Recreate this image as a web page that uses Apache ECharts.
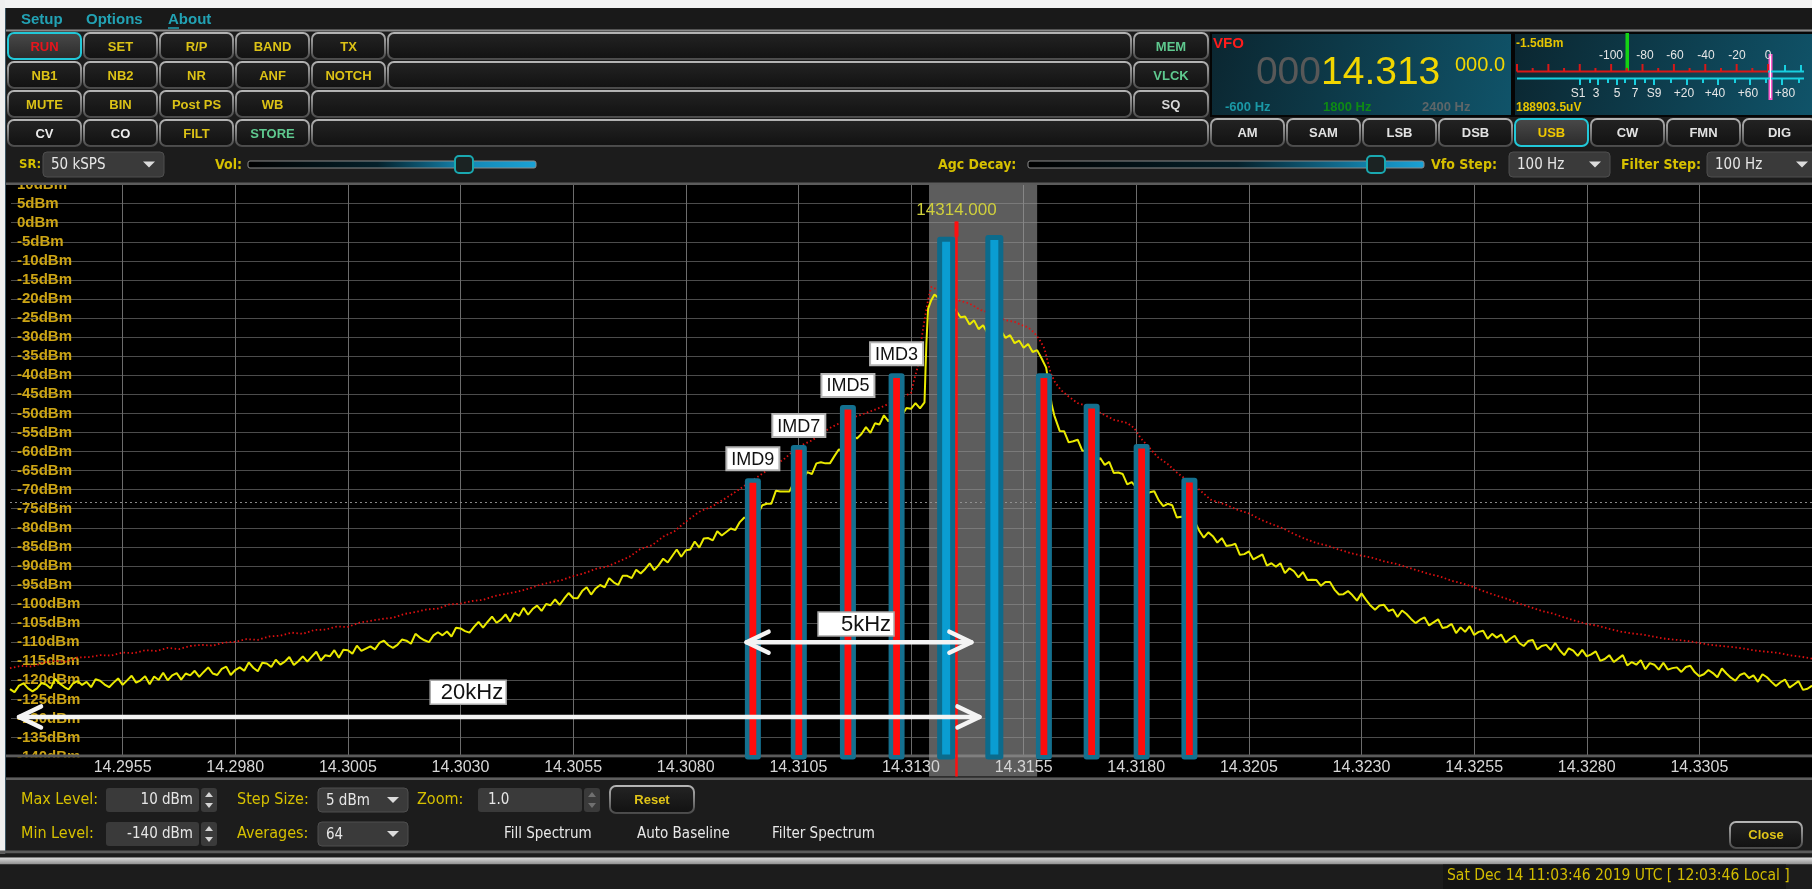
<!DOCTYPE html>
<html>
<head>
<meta charset="utf-8">
<title>Spectrum</title>
<script src="https://cdn.jsdelivr.net/npm/echarts@6/dist/echarts.min.js"></script>
<style>
  html, body { margin: 0; padding: 0; background: #1c1c1c; overflow: hidden; }
  #chart { width: 1812px; height: 889px; }
</style>
</head>
<body>
<div id="chart"></div>
<script>
// ---------- axes: frequency in kHz, level in dBm ----------
const freqMin = 14293, freqMax = 14333, freqStep = 2.5;
const levelMin = -140, levelMax = 10, levelStep = 5;

// ---------- two-tone carriers and intermodulation products ----------
const barFreq  = [14309.49, 14310.51, 14311.60, 14312.68, 14313.78, 14314.85, 14315.95, 14317.01, 14318.12, 14319.18];
const barLevel = [-67.0, -58.3, -47.8, -39.5, -3.7, -3.2, -39.5, -47.5, -58.0, -66.9];
const barKind  = ['imd', 'imd', 'imd', 'imd', 'tone', 'tone', 'imd', 'imd', 'imd', 'imd'];
const barLabel = ['IMD9', 'IMD7', 'IMD5', 'IMD3', '', '', '', '', '', ''];

// ---------- receive filter, VFO marker, AGC threshold ----------
const passband = [14313.4, 14315.8];
const vfoFreq = 14314;
const vfoMarkTop = 0.3;
const agcThreshold = -73.2;

// ---------- span annotations ----------
const spanFrom  = [14309.35, 14293.2];
const spanTo    = [14314.34, 14314.52];
const spanLevel = [-110, -129.6];
const spanText  = ['5kHz', '20kHz'];
const spanTextFreq  = [14311.78, 14303.17];
const spanTextLevel = [-105.2, -123.1];

// ---------- averaged spectrum (yellow) ----------
const liveTrace = [
[14293.0,-122.3],[14293.1,-123.1],[14293.2,-121.4],[14293.3,-120.8],[14293.4,-122.1],[14293.5,-122.9],[14293.6,-122.1],[14293.7,-120.7],[14293.8,-121.1],[14293.9,-122.1],
[14294.0,-119.6],[14294.1,-120.8],[14294.2,-121.7],[14294.3,-122.4],[14294.4,-120.8],[14294.5,-120.2],[14294.6,-121.2],[14294.7,-120.4],[14294.8,-121.8],[14294.9,-119.7],
[14295.0,-120.1],[14295.1,-121.1],[14295.2,-121.8],[14295.3,-120.6],[14295.4,-119.5],[14295.5,-121.2],[14295.6,-120.0],[14295.7,-118.8],[14295.8,-120.6],[14295.9,-120.0],
[14296.0,-118.9],[14296.1,-121.0],[14296.2,-119.0],[14296.3,-119.9],[14296.4,-118.0],[14296.5,-120.0],[14296.6,-118.7],[14296.7,-118.1],[14296.8,-119.8],[14296.9,-118.2],
[14297.0,-118.7],[14297.1,-117.5],[14297.2,-119.1],[14297.3,-117.8],[14297.4,-116.6],[14297.5,-118.2],[14297.6,-118.6],[14297.7,-117.0],[14297.8,-116.4],[14297.9,-118.6],
[14298.0,-117.3],[14298.1,-116.6],[14298.2,-117.5],[14298.3,-115.3],[14298.4,-116.7],[14298.5,-117.6],[14298.6,-115.4],[14298.7,-115.6],[14298.8,-116.5],[14298.9,-114.6],
[14299.0,-115.9],[14299.1,-115.1],[14299.2,-113.9],[14299.3,-116.0],[14299.4,-115.0],[14299.5,-113.7],[14299.6,-115.1],[14299.7,-113.8],[14299.8,-112.5],[14299.9,-114.8],
[14300.0,-113.4],[14300.1,-113.7],[14300.2,-112.1],[14300.3,-114.1],[14300.4,-112.0],[14300.5,-112.1],[14300.6,-113.0],[14300.7,-110.9],[14300.8,-112.3],[14300.9,-111.7],
[14301.0,-111.1],[14301.1,-111.9],[14301.2,-110.2],[14301.3,-109.6],[14301.4,-110.8],[14301.5,-111.5],[14301.6,-110.7],[14301.7,-109.3],[14301.8,-109.6],[14301.9,-110.4],
[14302.0,-107.8],[14302.1,-108.8],[14302.2,-109.5],[14302.3,-110.0],[14302.4,-108.2],[14302.5,-107.4],[14302.6,-108.2],[14302.7,-107.2],[14302.8,-108.5],[14302.9,-106.2],
[14303.0,-106.4],[14303.1,-107.1],[14303.2,-107.5],[14303.3,-106.0],[14303.4,-104.7],[14303.5,-106.2],[14303.6,-104.7],[14303.7,-103.3],[14303.8,-104.9],[14303.9,-104.1],
[14304.0,-102.7],[14304.1,-104.6],[14304.2,-102.4],[14304.3,-103.1],[14304.4,-101.0],[14304.5,-102.8],[14304.6,-101.3],[14304.7,-100.4],[14304.8,-101.8],[14304.9,-100.0],
[14305.0,-100.3],[14305.1,-98.8],[14305.2,-100.2],[14305.3,-98.6],[14305.4,-97.1],[14305.5,-98.4],[14305.6,-98.5],[14305.7,-96.6],[14305.8,-95.6],[14305.9,-97.5],
[14306.0,-95.9],[14306.1,-95.0],[14306.2,-95.6],[14306.3,-93.2],[14306.4,-94.3],[14306.5,-95.0],[14306.6,-92.6],[14306.7,-92.6],[14306.8,-93.2],[14306.9,-91.0],
[14307.0,-92.0],[14307.1,-90.8],[14307.2,-89.3],[14307.3,-91.1],[14307.4,-89.8],[14307.5,-88.1],[14307.6,-89.1],[14307.7,-87.4],[14307.8,-85.7],[14307.9,-87.6],
[14308.0,-85.9],[14308.1,-85.7],[14308.2,-83.6],[14308.3,-85.2],[14308.4,-82.8],[14308.5,-82.7],[14308.6,-83.3],[14308.7,-80.9],[14308.8,-82.0],[14308.9,-81.1],
[14309.0,-80.2],[14309.1,-80.6],[14309.2,-78.5],[14309.3,-77.3],[14309.4,-78.0],[14309.5,-77.9],[14309.6,-76.3],[14309.7,-74.1],[14309.8,-73.7],[14309.9,-73.7],
[14310.0,-70.3],[14310.1,-70.5],[14310.2,-70.5],[14310.3,-70.5],[14310.4,-68.1],[14310.5,-66.8],[14310.6,-67.1],[14310.7,-65.4],[14310.8,-65.9],[14310.9,-63.1],
[14311.0,-62.8],[14311.1,-63.1],[14311.2,-63.1],[14311.3,-61.2],[14311.4,-59.4],[14311.5,-60.1],[14311.6,-57.8],[14311.7,-55.7],[14311.8,-56.6],[14311.9,-55.4],
[14312.0,-53.6],[14312.1,-55.1],[14312.2,-52.6],[14312.3,-52.9],[14312.4,-50.5],[14312.5,-52.1],[14312.6,-50.4],[14312.7,-49.3],[14312.8,-50.5],[14312.9,-48.6],
[14313.0,-48.8],[14313.1,-47.3],[14313.2,-48.7],[14313.3,-47.1],[14313.34,-32.0],[14313.38,-22.5],[14313.45,-20.3],[14313.52,-18.8],[14313.6,-19.6],[14313.7,-18.6],
[14313.8,-20.5],[14313.9,-22.0],[14314.0,-23.0],[14314.1,-24.8],[14314.2,-24.6],[14314.3,-26.7],[14314.4,-25.6],[14314.5,-27.9],[14314.6,-26.9],[14314.7,-29.0],
[14314.8,-27.6],[14314.9,-29.4],[14315.0,-28.4],[14315.1,-30.2],[14315.2,-29.5],[14315.3,-31.6],[14315.4,-30.9],[14315.5,-32.8],[14315.6,-31.8],[14315.7,-33.9],
[14315.8,-33.4],[14315.9,-35.6],[14316.0,-38.0],[14316.06,-42.5],[14316.12,-47.5],[14316.18,-50.5],
[14316.3,-54.6],[14316.4,-54.7],[14316.5,-57.6],[14316.6,-57.3],[14316.7,-56.9],[14316.8,-59.7],[14316.9,-59.9],[14317.0,-59.7],[14317.1,-62.7],[14317.2,-61.7],
[14317.3,-63.5],[14317.4,-62.7],[14317.5,-65.6],[14317.6,-65.5],[14317.7,-65.9],[14317.8,-68.6],[14317.9,-68.0],[14318.0,-69.4],[14318.1,-68.9],[14318.2,-71.3],
[14318.3,-70.7],[14318.4,-70.4],[14318.5,-72.8],[14318.6,-74.3],[14318.7,-73.7],[14318.8,-74.1],[14318.9,-77.3],[14319.0,-77.1],[14319.1,-77.5],[14319.2,-79.5],
[14319.3,-78.4],[14319.4,-80.8],[14319.5,-82.6],[14319.6,-81.2],[14319.7,-82.2],[14319.8,-83.9],[14319.9,-82.7],[14320.0,-84.8],[14320.1,-84.6],[14320.2,-84.2],
[14320.3,-87.1],[14320.4,-86.9],[14320.5,-86.2],[14320.6,-88.3],[14320.7,-87.6],[14320.8,-87.0],[14320.9,-89.9],[14321.0,-89.3],[14321.1,-90.2],[14321.2,-89.3],
[14321.3,-91.9],[14321.4,-90.6],[14321.5,-91.4],[14321.6,-93.0],[14321.7,-91.6],[14321.8,-93.7],[14321.9,-93.6],[14322.0,-93.7],[14322.1,-95.2],[14322.2,-94.2],
[14322.3,-94.2],[14322.4,-96.2],[14322.5,-97.5],[14322.6,-97.4],[14322.7,-96.6],[14322.8,-97.7],[14322.9,-99.1],[14323.0,-97.2],[14323.1,-98.9],[14323.2,-100.4],
[14323.3,-101.5],[14323.4,-100.4],[14323.5,-100.2],[14323.6,-101.8],[14323.7,-101.4],[14323.8,-103.4],[14323.9,-101.7],[14324.0,-102.6],[14324.1,-103.9],[14324.2,-105.0],
[14324.3,-104.1],[14324.4,-103.5],[14324.5,-105.6],[14324.6,-104.8],[14324.7,-104.0],[14324.8,-106.3],[14324.9,-106.0],[14325.0,-105.2],[14325.1,-107.6],[14325.2,-106.1],
[14325.3,-107.3],[14325.4,-105.8],[14325.5,-108.1],[14325.6,-107.3],[14325.7,-107.0],[14325.8,-109.1],[14325.9,-107.8],[14326.0,-108.8],[14326.1,-108.0],[14326.2,-110.1],
[14326.3,-109.1],[14326.4,-108.3],[14326.5,-110.2],[14326.6,-111.0],[14326.7,-109.7],[14326.8,-109.4],[14326.9,-111.9],[14327.0,-111.0],[14327.1,-110.7],[14327.2,-112.0],
[14327.3,-110.2],[14327.4,-112.1],[14327.5,-113.4],[14327.6,-111.6],[14327.7,-112.2],[14327.8,-113.6],[14327.9,-112.0],[14328.0,-113.7],[14328.1,-113.2],[14328.2,-112.4],
[14328.3,-114.9],[14328.4,-114.4],[14328.5,-113.4],[14328.6,-115.2],[14328.7,-114.3],[14328.8,-113.4],[14328.9,-116.1],[14329.0,-115.2],[14329.1,-115.9],[14329.2,-114.7],
[14329.3,-117.1],[14329.4,-115.5],[14329.5,-115.9],[14329.6,-117.2],[14329.7,-115.4],[14329.8,-117.2],[14329.9,-116.8],[14330.0,-116.6],[14330.1,-117.8],[14330.2,-116.5],
[14330.3,-116.2],[14330.4,-117.9],[14330.5,-118.9],[14330.6,-118.4],[14330.7,-117.3],[14330.8,-118.1],[14330.9,-119.2],[14331.0,-116.9],[14331.1,-118.2],[14331.2,-119.3],
[14331.3,-120.1],[14331.4,-118.6],[14331.5,-118.1],[14331.6,-119.4],[14331.7,-118.7],[14331.8,-120.4],[14331.9,-118.4],[14332.0,-119.2],[14332.1,-120.4],[14332.2,-121.5],
[14332.3,-120.5],[14332.4,-119.8],[14332.5,-121.9],[14332.6,-121.1],[14332.7,-120.2],[14332.8,-122.5],[14332.9,-122.2],[14333.0,-121.4]
];

// ---------- peak hold (red, dotted) ----------
const peakTrace = [
[14293.0,-116.8],[14293.25,-116.2],[14293.5,-116.4],[14293.75,-115.3],[14294.0,-114.9],[14294.25,-115.1],[14294.5,-114.0],[14294.75,-113.9],[14295.0,-113.4],[14295.25,-113.5],
[14295.5,-112.7],[14295.75,-112.9],[14296.0,-112.1],[14296.25,-112.3],[14296.5,-111.5],[14296.75,-111.8],[14297.0,-111.0],[14297.25,-110.7],[14297.5,-110.9],[14297.75,-110.1],
[14298.0,-109.9],[14298.25,-109.2],[14298.5,-109.4],[14298.75,-108.5],[14299.0,-108.3],[14299.25,-107.5],[14299.5,-107.8],[14299.75,-106.8],[14300.0,-106.7],[14300.25,-105.9],
[14300.5,-106.0],[14300.75,-104.9],[14301.0,-104.4],[14301.25,-103.9],[14301.5,-103.6],[14301.75,-102.6],[14302.0,-102.1],[14302.25,-101.4],[14302.5,-101.2],[14302.75,-100.1],
[14303.0,-99.9],[14303.25,-99.2],[14303.5,-98.9],[14303.75,-97.9],[14304.0,-97.3],[14304.25,-96.8],[14304.5,-96.0],[14304.75,-95.0],[14305.0,-94.3],[14305.25,-93.7],
[14305.5,-92.7],[14305.75,-91.9],[14306.0,-90.8],[14306.25,-90.2],[14306.5,-88.9],[14306.75,-87.6],[14307.0,-85.5],[14307.25,-84.6],[14307.5,-82.3],[14307.75,-80.9],
[14308.0,-78.4],[14308.3,-75.8],[14308.6,-74.3],[14309.0,-71.4],[14309.4,-68.2],[14309.8,-65.0],[14310.2,-61.8],[14310.5,-58.7],[14310.8,-57.1],[14311.2,-53.8],
[14311.6,-51.5],[14312.0,-49.9],[14312.4,-48.1],[14312.7,-46.2],[14313.0,-44.7],[14313.07,-41.2],[14313.15,-37.8],[14313.22,-31.5],[14313.3,-25.5],[14313.38,-20.2],
[14313.45,-16.8],[14313.56,-17.4],[14313.7,-18.6],[14313.85,-18.9],[14314.04,-20.3],[14314.3,-21.2],[14314.55,-22.9],[14314.8,-23.8],[14315.08,-25.5],[14315.3,-26.0],
[14315.45,-26.8],[14315.6,-27.4],[14315.74,-28.9],[14315.85,-30.6],[14315.96,-32.9],[14316.1,-39.4],[14316.2,-41.9],[14316.33,-43.9],[14316.5,-45.6],[14316.7,-47.3],
[14317.0,-48.4],[14317.21,-49.9],[14317.51,-51.7],[14317.8,-52.5],[14317.95,-53.8],[14318.1,-56.5],[14318.3,-59.1],[14318.47,-61.4],[14318.7,-63.3],[14318.91,-65.6],
[14319.15,-67.7],[14319.36,-69.6],[14319.65,-72.6],[14320.0,-74.0],[14320.25,-75.3],[14320.5,-76.2],[14320.75,-77.8],[14321.0,-79.0],[14321.25,-80.1],[14321.5,-81.6],
[14321.75,-82.9],[14322.0,-84.0],[14322.25,-84.7],[14322.5,-85.7],[14322.75,-86.6],[14323.0,-87.3],[14323.25,-87.9],[14323.5,-88.8],[14323.75,-89.4],[14324.0,-90.3],
[14324.25,-91.2],[14324.5,-92.1],[14324.75,-92.8],[14325.0,-93.9],[14325.25,-94.6],[14325.5,-95.6],[14325.75,-96.8],[14326.0,-97.8],[14326.25,-98.7],[14326.5,-99.9],
[14326.75,-100.8],[14327.0,-101.8],[14327.25,-102.5],[14327.5,-103.5],[14327.75,-104.4],[14328.0,-105.2],[14328.25,-105.7],[14328.5,-106.5],[14328.75,-107.2],[14329.0,-107.7],
[14329.25,-108.0],[14329.5,-108.6],[14329.75,-109.1],[14330.0,-109.4],[14330.25,-109.7],[14330.5,-110.2],[14330.75,-110.7],[14331.0,-111.0],[14331.25,-111.3],[14331.5,-111.7],
[14331.75,-112.2],[14332.0,-112.5],[14332.25,-112.8],[14332.5,-113.4],[14332.75,-113.8],[14333.0,-114.3]
];

// ---------- control panel texts ----------
const menuItems = ['Setup', 'Options', 'About'];
const menuX = [21, 86, 168];
const buttonCols = [8, 84, 160, 236, 312];
const buttonRows = [33, 62, 91, 120];
const buttonText = [
  ['RUN', 'SET', 'R/P', 'BAND', 'TX'],
  ['NB1', 'NB2', 'NR', 'ANF', 'NOTCH'],
  ['MUTE', 'BIN', 'Post PS', 'WB'],
  ['CV', 'CO', 'FILT', 'STORE']
];
const sideButtons = ['MEM', 'VLCK', 'SQ'];
const modeButtons = ['AM', 'SAM', 'LSB', 'DSB', 'USB', 'CW', 'FMN', 'DIG'];
const activeMode = 'USB';
const meterDbLabels = ['-100', '-80', '-60', '-40', '-20', '0'];
const meterDbX = [1611, 1645, 1675, 1706, 1737, 1768];
const meterSLabels = ['S1', '3', '5', '7', 'S9', '+20', '+40', '+60', '+80'];
const meterSX = [1578, 1596, 1617, 1635, 1654, 1684, 1715, 1748, 1785];
const statusText = 'Sat Dec 14 11:03:46 2019 UTC [ 12:03:46 Local ]';

// ---------- styling helpers ----------
const UI = "'Liberation Sans', Arial, sans-serif";
const NARROW = "'Liberation Sans Narrow', 'DejaVu Sans Condensed', 'Liberation Sans', sans-serif";
const YEL = '#d6c000';

function vgrad(a, b) {
  return { type: 'linear', x: 0, y: 0, x2: 0, y2: 1, colorStops: [{ offset: 0, color: a }, { offset: 1, color: b }] };
}
function hgrad(stops) {
  return { type: 'linear', x: 0, y: 0, x2: 1, y2: 0, colorStops: stops.map(s => ({ offset: s[0], color: s[1] })) };
}
function textStyle(s, fill, font, align) {
  const a = align || 'left';
  return { text: s, fill: fill, font: font, align: a, verticalAlign: 'middle', textAlign: a, textVerticalAlign: 'middle' };
}

const chrome = [];
function rect(x, y, w, h, fill, o) {
  o = o || {};
  chrome.push({ type: 'rect', silent: true, z: o.z || 71, shape: { x: x, y: y, width: w, height: h, r: o.r || 0 },
    style: { fill: fill, stroke: o.stroke || null, lineWidth: o.lw || 0 } });
}
function txt(x, y, s, fill, font, align, z) {
  chrome.push({ type: 'text', silent: true, z: z || 74, x: x, y: y, style: textStyle(s, fill, font, align) });
}
function seg(x1, y1, x2, y2, stroke, lw, z) {
  chrome.push({ type: 'line', silent: true, z: z || 73, shape: { x1: x1, y1: y1, x2: x2, y2: y2 }, style: { stroke: stroke, lineWidth: lw } });
}
function tri(points, fill, z) {
  chrome.push({ type: 'polygon', silent: true, z: z || 73, shape: { points: points }, style: { fill: fill } });
}
function button(x, y, w, h, label, color, selected) {
  rect(x, y, w, h, selected ? vgrad('#4a4a4a', '#2a2a2a') : vgrad('#242424', '#111111'),
    { r: 6, stroke: selected ? '#22c8d8' : vgrad('#b8b8b8', '#474747'), lw: 2 });
  if (label) txt(x + w / 2, y + h / 2 + 1, label, color, 'bold 13px ' + UI, 'center');
}
function dropdown(x, y, w, h, value) {
  rect(x, y, w, h, '#3a3a3a', { r: 4, stroke: '#4e4e4e', lw: 1 });
  txt(x + 8, y + h / 2 + 1, value, '#e6e6e6', '15px ' + NARROW);
  const cx = x + w - 15, cy = y + h / 2;
  tri([[cx - 6, cy - 3], [cx + 6, cy - 3], [cx, cy + 3]], '#dcdcdc');
}
function slider(x, w, knobX) {
  const f = (knobX - x) / w;
  rect(x, 161, w, 7, hgrad([[0, '#000000'], [f * 0.6, '#04202a'], [f, '#1486b2'], [1, '#1aa2d6']]),
    { r: 2, stroke: '#8c8c8c', lw: 1 });
  rect(knobX - 9, 156, 18, 17, '#1b2323', { r: 4, stroke: '#1aa8b0', lw: 2, z: 72 });
}
function spinbox(x, y, w, value, enabled) {
  rect(x, y, w, 24, '#3a3a3a', { r: 3 });
  txt(x + w - 6, y + 12, value, '#e6e6e6', '15px ' + NARROW, 'right');
  rect(x + w + 2, y, 16, 24, '#3a3a3a', { r: 3 });
  const c = enabled ? '#d4d4d4' : '#707070';
  const cx = x + w + 10;
  tri([[cx - 4, y + 9], [cx + 4, y + 9], [cx, y + 4]], c);
  tri([[cx - 4, y + 15], [cx + 4, y + 15], [cx, y + 20]], c);
}
function buttonColor(label) {
  if (label === 'RUN') return '#e8141c';
  if (label === 'MEM' || label === 'VLCK' || label === 'STORE') return '#5fc98f';
  if (label === 'SQ') return '#d8d8d8';
  if (label === 'CV' || label === 'CO') return '#ececec';
  return '#dcc216';
}

// ---------- window chrome ----------
function buildChrome() {
  // window frame, menu and button area
  rect(0, 0, 1812, 183.5, '#1c1c1c', { z: 69 });
  rect(0, 0, 1812, 8, '#f2f2f2', { z: 70 });
  rect(5, 8, 1807, 21, '#191919', { z: 70 });
  menuItems.forEach((m, i) => txt(menuX[i], 20, m, '#22a2b4', 'bold 15px ' + UI));
  seg(168, 28, 179, 28, '#22a2b4', 1.5);
  rect(5, 29.5, 1807, 2, '#8a8a8a', { z: 70 });

  buttonText.forEach((row, r) => row.forEach((label, c) =>
    button(buttonCols[c], buttonRows[r], 73, 26, label, buttonColor(label), label === 'RUN')));
  button(388, 33, 743, 26, '', '', false);
  button(388, 62, 743, 26, '', '', false);
  button(312, 91, 819, 26, '', '', false);
  button(312, 120, 896, 26, '', '', false);
  sideButtons.forEach((label, i) => button(1134, buttonRows[i], 74, 26, label, buttonColor(label), false));
  modeButtons.forEach((label, i) => button(1211 + i * 76, 119, 73, 27, label,
    label === activeMode ? '#f0c800' : '#e2e2e2', label === activeMode));

  // VFO display
  rect(1211, 33, 301, 83, { type: 'linear', x: 0, y: 0, x2: 1, y2: 1, colorStops: [{ offset: 0, color: '#0b2630' }, { offset: 1, color: '#10546a' }] },
    { stroke: '#050505', lw: 2 });
  txt(1213, 44, 'VFO', '#ff1c1c', 'bold 15px ' + UI);
  txt(1321, 73, '000', '#585858', '39px ' + UI, 'right');
  txt(1321, 73, '14.313', '#f2d600', '39px ' + UI, 'left');
  txt(1455, 65, '000.0', '#f2d600', '20px ' + UI, 'left');
  txt(1225, 107, '-600 Hz', '#1a98a6', 'bold 13px ' + UI);
  txt(1323, 107, '1800 Hz', '#0e8a14', 'bold 13px ' + UI);
  txt(1422, 107, '2400 Hz', '#5e6668', 'bold 13px ' + UI);

  // S-meter
  rect(1514, 33, 300, 83, { type: 'linear', x: 0, y: 0, x2: 1, y2: 1, colorStops: [{ offset: 0, color: '#0b2630' }, { offset: 1, color: '#10546a' }] },
    { stroke: '#050505', lw: 2 });
  txt(1516, 44, '-1.5dBm', '#e6c400', 'bold 12px ' + UI);
  meterDbLabels.forEach((s, i) => txt(meterDbX[i], 56, s, '#e6e6e6', '12px ' + UI, 'center'));
  seg(1517, 71.5, 1768, 71.5, '#d81818', 2);
  for (let i = 0; i <= 16; i++) {
    const x = 1517 + i * 15.69;
    seg(x, i % 2 === 0 ? 64 : 68, x, 71.5, '#d81818', 2);
  }
  seg(1768, 71.5, 1804, 71.5, '#18d0e0', 2);
  seg(1785, 65, 1785, 71.5, '#18d0e0', 2);
  seg(1801, 65, 1801, 71.5, '#18d0e0', 2);
  seg(1517, 78.5, 1804, 78.5, '#18d0e0', 2);
  [1580, 1590, 1598, 1608, 1617, 1625, 1635, 1645, 1654, 1671, 1687, 1703, 1718, 1735, 1750, 1766, 1782, 1799]
    .forEach((x, i) => seg(x, 78.5, x, i % 2 === 0 ? 85 : 83, '#18d0e0', 2));
  meterSLabels.forEach((s, i) => txt(meterSX[i], 94, s, '#e6e6e6', '12px ' + UI, 'center'));
  rect(1625.5, 33, 3.5, 39, '#14d214', { z: 72 });
  rect(1768.5, 54, 4, 46, '#ff5ccc', { z: 72 });
  seg(1770.5, 56, 1770.5, 98, '#ffffff', 1, 74);
  txt(1516, 108, '188903.5uV', '#e6c400', 'bold 12px ' + UI);

  // sample rate, volume, AGC and step selectors
  txt(19, 165, 'SR:', YEL, 'bold 13px ' + NARROW);
  dropdown(43, 152, 121, 25, '50 kSPS');
  txt(215, 165, 'Vol:', YEL, 'bold 14px ' + NARROW);
  slider(248, 288, 464);
  txt(938, 165, 'Agc Decay:', YEL, 'bold 14px ' + NARROW);
  slider(1028, 396, 1376);
  txt(1431, 165, 'Vfo Step:', YEL, 'bold 14px ' + NARROW);
  dropdown(1509, 152, 101, 25, '100 Hz');
  txt(1621, 165, 'Filter Step:', YEL, 'bold 14px ' + NARROW);
  dropdown(1707, 152, 110, 25, '100 Hz');
  rect(5, 182.5, 1807, 2.5, '#5c5c5c', { z: 72 });

  // left frame edge
  rect(0, 0, 5, 857, '#efefef', { z: 75 });
  seg(5.5, 8, 5.5, 856, '#3c5664', 1, 75);

  // plot left margin and frequency label strip
  rect(5, 184, 6, 573, '#000000', { z: 3 });
  rect(5, 754.5, 1807, 3, '#5a5a5a', { z: 50 });
  rect(5, 757.5, 1807, 20, '#000000', { z: 50 });

  // display controls panel
  rect(5, 777.5, 1807, 74, '#1c1c1c', { z: 70 });
  rect(5, 777.5, 1807, 2.5, '#5e5e5e', { z: 71 });
  txt(21, 800, 'Max Level:', YEL, '16px ' + NARROW);
  spinbox(106, 788, 93, '10 dBm', true);
  txt(237, 800, 'Step Size:', YEL, '16px ' + NARROW);
  dropdown(318, 788, 90, 24, '5 dBm');
  txt(417, 800, 'Zoom:', YEL, '16px ' + NARROW);
  rect(478, 788, 104, 24, '#3a3a3a', { r: 3 });
  txt(488, 800, '1.0', '#e6e6e6', '15px ' + NARROW);
  rect(584, 788, 16, 24, '#3a3a3a', { r: 3 });
  tri([[588, 797], [596, 797], [592, 792]], '#707070');
  tri([[588, 803], [596, 803], [592, 808]], '#707070');
  button(610, 786, 84, 27, '', '', false);
  txt(652, 800, 'Reset', '#e0c418', 'bold 13px ' + UI, 'center');
  txt(21, 834, 'Min Level:', YEL, '16px ' + NARROW);
  spinbox(106, 822, 93, '-140 dBm', true);
  txt(237, 834, 'Averages:', YEL, '16px ' + NARROW);
  dropdown(318, 822, 90, 24, '64');
  txt(504, 834, 'Fill Spectrum', '#e8e8e8', '15px ' + NARROW);
  txt(637, 834, 'Auto Baseline', '#e8e8e8', '15px ' + NARROW);
  txt(772, 834, 'Filter Spectrum', '#e8e8e8', '15px ' + NARROW);
  button(1730, 822, 72, 26, '', '', false);
  txt(1766, 835, 'Close', '#e0c418', 'bold 13px ' + UI, 'center');

  // status bar
  rect(0, 850.5, 1812, 3, '#5c5c5c', { z: 76 });
  rect(0, 853.5, 1812, 4, '#1c1c1c', { z: 76 });
  rect(0, 857.5, 1812, 7, vgrad('#dedede', '#8c8c8c'), { z: 76 });
  rect(0, 864.5, 1812, 25, '#1c1c1c', { z: 76 });
  rect(1443, 864.5, 343, 25, '#141414', { z: 76 });
  txt(1447, 876, statusText, '#d2bc00', '15.5px ' + NARROW, 'left', 77);
  return chrome;
}

// ---------- custom renderers ----------
function renderPassband(params, api) {
  const lo = api.coord([api.value(0), levelMax]);
  const hi = api.coord([api.value(1), levelMin]);
  return { type: 'rect', shape: { x: lo[0], y: lo[1], width: hi[0] - lo[0], height: hi[1] - lo[1] + 20 },
    style: { fill: 'rgba(150,150,150,0.62)' } };
}

function renderVfo(params, api) {
  const top = api.coord([api.value(0), api.value(1)]);
  const base = api.coord([api.value(0), levelMin]);
  const x = Math.round(top[0]) + 0.5;
  return { type: 'group', children: [
    { type: 'rect', shape: { x: x - 2, y: top[1], width: 4, height: 15 }, style: { fill: '#ff1010' } },
    { type: 'line', shape: { x1: x, y1: top[1], x2: x, y2: base[1] + 20 }, style: { stroke: '#ff1010', lineWidth: 2.5 } },
    { type: 'text', x: x, y: top[1] - 11, style: textStyle(api.value(0).toFixed(3), '#cfcf3c', '17px ' + UI, 'center') }
  ] };
}

function renderBar(params, api) {
  const i = params.dataIndex;
  const top = api.coord([api.value(0), api.value(1)]);
  const base = api.coord([api.value(0), levelMin]);
  const tone = barKind[i] === 'tone';
  const w = tone ? 18 : 16, inset = tone ? 5 : 4.6;
  const x = top[0] - w / 2, y = top[1], h = base[1] + 3 - top[1];
  const kids = [
    { type: 'rect', shape: { x: x, y: y, width: w, height: h, r: 3 }, style: { fill: tone ? '#0c6b8c' : '#14708f' } },
    { type: 'rect', shape: { x: x + inset, y: y + inset, width: w - 2 * inset, height: h - 2 * inset },
      style: { fill: tone ? '#0a9dd2' : '#ff0c0c' } }
  ];
  if (barLabel[i]) {
    const bw = 53, bh = 23, by = y - 8 - bh;
    kids.push({ type: 'rect', shape: { x: top[0] - bw / 2, y: by, width: bw, height: bh },
      style: { fill: '#ffffff', stroke: '#b4b4b4', lineWidth: 2 } });
    kids.push({ type: 'text', x: top[0], y: by + bh / 2 + 1, style: textStyle(barLabel[i], '#111111', '18px ' + UI, 'center') });
  }
  return { type: 'group', children: kids };
}

function renderSpan(params, api) {
  const a = api.coord([api.value(0), api.value(2)]);
  const b = api.coord([api.value(1), api.value(2)]);
  const head = 22, spread = 10.5;
  const st = { stroke: '#f4f4f4', lineWidth: 4.5, lineCap: 'round', lineJoin: 'round', fill: null };
  return { type: 'group', children: [
    { type: 'line', shape: { x1: a[0], y1: a[1], x2: b[0], y2: b[1] }, style: st },
    { type: 'polyline', shape: { points: [[a[0] + head, a[1] - spread], [a[0], a[1]], [a[0] + head, a[1] + spread]] }, style: st },
    { type: 'polyline', shape: { points: [[b[0] - head, b[1] - spread], [b[0], b[1]], [b[0] - head, b[1] + spread]] }, style: st }
  ] };
}

function renderSpanText(params, api) {
  const c = api.coord([api.value(0), api.value(1)]);
  const w = 76, h = 24;
  return { type: 'group', children: [
    { type: 'rect', shape: { x: c[0] - w / 2, y: c[1] - h / 2, width: w, height: h },
      style: { fill: '#ffffff', stroke: '#a8a8a8', lineWidth: 1.5 } },
    { type: 'text', x: c[0] + w / 2 - 3, y: c[1] + 1, style: textStyle(spanText[params.dataIndex], '#111111', '22px ' + UI, 'right') }
  ] };
}

// ---------- chart ----------
const chart = echarts.init(document.getElementById('chart'), null, { renderer: 'canvas' });
chart.setOption({
  animation: false,
  backgroundColor: '#1c1c1c',
  grid: { left: 10, top: 184.6, width: 1806, height: 572, show: true, backgroundColor: '#000000', borderWidth: 0 },
  xAxis: [
    { type: 'value', min: freqMin, max: freqMax, interval: freqStep, z: 2,
      axisLine: { show: false }, axisTick: { show: false }, axisLabel: { show: false },
      splitLine: { show: true, lineStyle: { color: '#6c6c6c', width: 1 } } },
    { type: 'value', min: freqMin, max: freqMax, interval: freqStep, z: 60, position: 'bottom',
      axisLine: { show: false }, axisTick: { show: false }, splitLine: { show: false },
      axisLabel: { show: true, showMinLabel: false, showMaxLabel: false, color: '#d6d6d6', fontSize: 16,
        fontFamily: UI, margin: 3, formatter: v => (v / 1000).toFixed(4) } }
  ],
  yAxis: {
    type: 'value', min: levelMin, max: levelMax, interval: levelStep, z: 2,
    axisLine: { show: false }, axisTick: { show: false },
    splitLine: { show: true, lineStyle: { color: '#4c4c4c', width: 1 } },
    axisLabel: { inside: true, margin: 7, color: '#cca414', fontWeight: 'bold', fontSize: 15, fontFamily: UI,
      formatter: v => v + 'dBm' }
  },
  graphic: { elements: buildChrome() },
  series: [
    { type: 'custom', name: 'passband', z: 51, clip: false, silent: true, encode: { x: [0, 1] },
      data: [passband], renderItem: renderPassband },
    { type: 'line', name: 'peak', z: 52, silent: true, showSymbol: false, symbol: 'none', data: peakTrace,
      lineStyle: { color: '#e01010', width: 1.8, type: [1.5, 2.5] },
      markLine: { silent: true, symbol: 'none', label: { show: false },
        lineStyle: { color: '#8a8a8a', width: 1, type: [2, 3] }, data: [{ yAxis: agcThreshold }] } },
    { type: 'line', name: 'average', z: 53, silent: true, showSymbol: false, symbol: 'none', data: liveTrace,
      lineStyle: { color: '#eaea00', width: 2 } },
    { type: 'custom', name: 'tones', z: 56, clip: false, silent: true,
      data: barFreq.map((f, i) => [f, barLevel[i]]), renderItem: renderBar },
    { type: 'custom', name: 'vfo', z: 57, clip: false, silent: true,
      data: [[vfoFreq, vfoMarkTop]], renderItem: renderVfo },
    { type: 'custom', name: 'spans', z: 58, clip: false, silent: true, encode: { x: [0, 1], y: 2 },
      data: spanFrom.map((f, i) => [f, spanTo[i], spanLevel[i]]), renderItem: renderSpan },
    { type: 'custom', name: 'spanText', z: 59, clip: false, silent: true,
      data: spanTextFreq.map((f, i) => [f, spanTextLevel[i]]), renderItem: renderSpanText }
  ]
});
</script>
</body>
</html>
